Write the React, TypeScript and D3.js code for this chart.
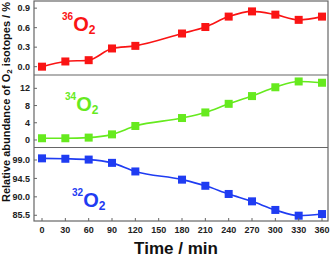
import React from "react";
import * as d3 from "d3";

// time axis (min)
const times = [0, 30, 60, 90, 120, 180, 210, 240, 270, 300, 330, 360];
const xTicks = [0, 30, 60, 90, 120, 150, 180, 210, 240, 270, 300, 330, 360];

// relative abundance (%)
const o36 = [0.0, 0.08, 0.1, 0.28, 0.32, 0.51, 0.61, 0.77, 0.85, 0.8, 0.72, 0.77];
const o34 = [0.4, 0.4, 0.55, 1.3, 3.25, 5.1, 6.4, 8.4, 10.2, 12.25, 13.6, 13.3];
const o32 = [99.4, 99.3, 99.1, 98.3, 96.2, 94.2, 92.7, 90.7, 88.9, 86.8, 85.4, 85.8];

const ticks36 = [0, 0.3, 0.6, 0.9];
const ticks34 = [0, 4, 8, 12];
const ticks32 = [85.5, 90, 94.5, 99];

const W = 332;
const H = 259;
const left = 34;
const right = 328;
const bounds = [1, 75, 147.5, 221];
const FONT = "'Liberation Sans', Arial, sans-serif";

const panels = [
  { values: o36, ticks: ticks36, fmt: ".1f", domain: [-0.128, 1.01], color: "#fa1414", iso: "36", lx: 62, ly: 29.7 },
  { values: o34, ticks: ticks34, fmt: "d", domain: [-1.75, 15.1], color: "#66ea1e", iso: "34", lx: 65, ly: 35.7 },
  { values: o32, ticks: ticks32, fmt: ".1f", domain: [84.1, 102.05], color: "#1f3cf2", iso: "32", lx: 72, ly: 59 },
];

export default function App() {
  const x = d3.scaleLinear().domain([-10.3, 367.7]).range([left, right]);

  return (
    <svg
      width={W}
      height={H}
      style={{ position: "absolute", top: 0, left: 0, background: "#fff" }}
      fontFamily={FONT}
    >
      {panels.map((p, i) => {
        const top = bounds[i];
        const bottom = bounds[i + 1];
        const y = d3.scaleLinear().domain(p.domain).range([bottom, top]);
        const line = d3
          .line<number>()
          .x((_, j) => x(times[j]))
          .y((v) => y(v))
          .curve(d3.curveMonotoneX);
        const f = d3.format(p.fmt);
        return (
          <g key={i}>
            {p.ticks.map((t) => (
              <g key={t}>
                <line x1={left} x2={left + 3} y1={y(t)} y2={y(t)} stroke="#666" strokeWidth={1} />
                <text x={30} y={y(t)} dy="0.35em" textAnchor="end" fontSize={9} fontWeight="bold" fill="#222">
                  {f(t)}
                </text>
              </g>
            ))}
            <path d={line(p.values) || ""} fill="none" stroke={p.color} strokeWidth={1.6} />
            {p.values.map((v, j) => (
              <rect key={j} x={x(times[j]) - 4} y={y(v) - 4} width={8} height={8} fill={p.color} />
            ))}
            <text x={p.lx} y={top + p.ly} fill={p.color} fontWeight="bold">
              <tspan fontSize={10} dy={-11}>{p.iso}</tspan>
              <tspan fontSize={20} dy={11}>O</tspan>
              <tspan fontSize={12} dy={3.6}>2</tspan>
            </text>
            {i > 0 && <line x1={left} x2={right} y1={top} y2={top} stroke="#666" strokeWidth={1.2} />}
          </g>
        );
      })}

      {/* frame */}
      <rect x={left} y={bounds[0]} width={right - left} height={bounds[3] - bounds[0]} fill="none" stroke="#666" strokeWidth={1.2} />

      {/* x axis */}
      {xTicks.map((t) => (
        <g key={t}>
          <line x1={x(t)} x2={x(t)} y1={bounds[3]} y2={bounds[3] - 3} stroke="#666" strokeWidth={1} />
          <text x={x(t)} y={232.5} textAnchor="middle" fontSize={9} fontWeight="bold" fill="#222">
            {t}
          </text>
        </g>
      ))}
      <text x={176} y={253.5} textAnchor="middle" fontSize={17} fontWeight="bold" fill="#111">
        Time / min
      </text>

      <text
        transform="translate(9.5,102) rotate(-90)"
        textAnchor="middle"
        fontSize={11}
        fontWeight="bold"
        fill="#111"
      >
        Relative abundance of O<tspan fontSize={8} dy={2.5}>2</tspan>
        <tspan dy={-2.5}> isotopes / %</tspan>
      </text>
    </svg>
  );
}
